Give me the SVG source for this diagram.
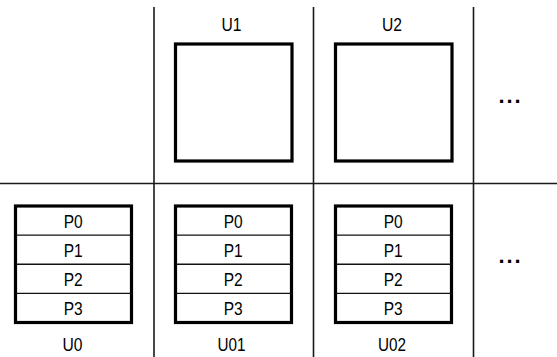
<svg xmlns="http://www.w3.org/2000/svg" width="557" height="357" viewBox="0 0 557 357">
  <style>
    .grid { stroke: #1a1a1a; stroke-width: 1.6; fill: none; }
    .box { fill: #ffffff; stroke: #000000; stroke-width: 3.2; }
    .div { stroke: #111111; stroke-width: 1.4; }
    text { font-family: "Liberation Sans", Arial, sans-serif; font-size: 18.5px; fill: #000000; text-anchor: middle; }
    .dots { font-size: 22px; font-weight: bold; text-anchor: start; }
  </style>
  <defs>
    <!-- four-row partition stack, 116 x 116.5 -->
    <g id="stack">
      <rect class="box" x="0" y="0" width="116" height="116.5"/>
      <line class="div" x1="0" y1="29.1" x2="116" y2="29.1"/>
      <line class="div" x1="0" y1="58.25" x2="116" y2="58.25"/>
      <line class="div" x1="0" y1="87.4" x2="116" y2="87.4"/>
      <text x="57.7" y="21.7" textLength="19" lengthAdjust="spacingAndGlyphs">P0</text>
      <text x="57.7" y="50.8" textLength="19" lengthAdjust="spacingAndGlyphs">P1</text>
      <text x="57.7" y="80" textLength="19" lengthAdjust="spacingAndGlyphs">P2</text>
      <text x="57.7" y="109.2" textLength="19" lengthAdjust="spacingAndGlyphs">P3</text>
    </g>
  </defs>

  <rect width="557" height="357" fill="#ffffff"/>

  <!-- table rules -->
  <g id="connectors">
    <line class="grid" x1="154" y1="7" x2="154" y2="357"/>
    <line class="grid" x1="313.5" y1="7" x2="313.5" y2="357"/>
    <line class="grid" x1="473.5" y1="7" x2="473.5" y2="357"/>
    <line class="grid" x1="0" y1="183.5" x2="557" y2="183.5"/>
  </g>

  <!-- top row -->
  <g id="U1">
    <text x="231.5" y="30.5" textLength="20" lengthAdjust="spacingAndGlyphs">U1</text>
    <rect class="box" x="175.5" y="44" width="116.5" height="117"/>
  </g>
  <g id="U2">
    <text x="392" y="30.5" textLength="20" lengthAdjust="spacingAndGlyphs">U2</text>
    <rect class="box" x="335.5" y="44" width="116.5" height="117"/>
  </g>
  <g id="more-top">
    <text class="dots" x="498.5 506.5 514.5" y="102.7">...</text>
  </g>

  <!-- bottom row -->
  <g id="U0">
    <use href="#stack" x="15.5" y="206"/>
    <text x="72.5" y="350.7" textLength="20" lengthAdjust="spacingAndGlyphs">U0</text>
  </g>
  <g id="U01">
    <use href="#stack" x="175.5" y="206"/>
    <text x="231.5" y="350.7" textLength="28" lengthAdjust="spacingAndGlyphs">U01</text>
  </g>
  <g id="U02">
    <use href="#stack" x="335.5" y="206"/>
    <text x="392" y="350.7" textLength="28" lengthAdjust="spacingAndGlyphs">U02</text>
  </g>
  <g id="more-bottom">
    <text class="dots" x="498.5 506.5 514.5" y="262.7">...</text>
  </g>
</svg>
